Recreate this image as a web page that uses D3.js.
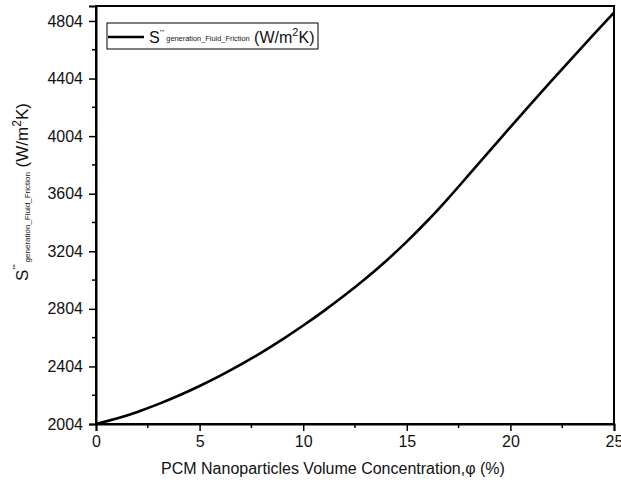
<!DOCTYPE html>
<html>
<head>
<meta charset="utf-8">
<script src="https://cdn.jsdelivr.net/npm/d3@7"></script>
<style>
  html, body { margin: 0; padding: 0; background: #fff; }
  text { font-family: "Liberation Sans", Arial, sans-serif; fill: #111; }
</style>
</head>
<body>
<svg id="chart" width="621" height="484"></svg>
<script>
// Data
const phi = [0,1,2,3,4,5,6,7,8,9,10,11,12,13,14,15,16,17,18,19,20,21,22,23,24,25];
const sGen = [2004,2042,2088,2142,2202,2268,2340,2418,2502,2592,2688,2790,2898,3013,3137,3271,3416,3572,3736,3902,4067,4230,4391,4550,4707,4862];
const xTicks = [0,5,10,15,20,25];
const yTicks = [2004,2404,2804,3204,3604,4004,4404,4804];
const xMinor = [2.5,7.5,12.5,17.5,22.5];
const yMinor = [2204,2604,3004,3404,3804,4204,4604];

const svg = d3.select("#chart");
const W = 621, H = 484;
const m = {left: 96, top: 6, right: 7, bottom: 60};
const x = d3.scaleLinear().domain([0,25]).range([m.left, W - m.right]);
const y = d3.scaleLinear().domain([2004,4908]).range([H - m.bottom, m.top]);

// frame
svg.append("rect")
  .attr("x", m.left).attr("y", m.top)
  .attr("width", W - m.right - m.left).attr("height", H - m.bottom - m.top)
  .attr("fill", "none").attr("stroke", "#000").attr("stroke-width", 2);

// x axis
const xAxis = svg.append("g").attr("transform", `translate(0,${H - m.bottom})`)
  .call(d3.axisBottom(x).tickValues(xTicks).tickFormat(d3.format("d")).tickSize(7).tickPadding(5));
xAxis.append("g").selectAll("line").data(xMinor).join("line")
  .attr("x1", d => x(d)).attr("x2", d => x(d)).attr("y1", 0).attr("y2", 4)
  .attr("stroke", "#000").attr("stroke-width", 1.5);
xAxis.select(".domain").attr("stroke-width", 2);
xAxis.selectAll(".tick line").attr("stroke-width", 1.5);
xAxis.selectAll(".tick text").attr("font-size", 16).attr("font-family", "Liberation Sans, Arial, sans-serif").attr("fill", "#111");

// y axis
const yAxis = svg.append("g").attr("transform", `translate(${m.left},0)`)
  .call(d3.axisLeft(y).tickValues(yTicks).tickFormat(d3.format("d")).tickSize(7).tickPadding(6));
yAxis.append("g").selectAll("line").data(yMinor).join("line")
  .attr("y1", d => y(d)).attr("y2", d => y(d)).attr("x1", 0).attr("x2", -4)
  .attr("stroke", "#000").attr("stroke-width", 1.5);
yAxis.select(".domain").attr("stroke-width", 2);
yAxis.selectAll(".tick line").attr("stroke-width", 1.5);
yAxis.selectAll(".tick text").attr("font-size", 16).attr("font-family", "Liberation Sans, Arial, sans-serif").attr("fill", "#111");

// line
const line = d3.line().x((d,i) => x(phi[i])).y(d => y(d)).curve(d3.curveMonotoneX);
svg.append("path").datum(sGen).attr("d", line)
  .attr("fill", "none").attr("stroke", "#000").attr("stroke-width", 2.6);

// x title
svg.append("text").attr("x", 333).attr("y", 474).attr("text-anchor", "middle")
  .attr("font-size", 16).text("PCM Nanoparticles Volume Concentration,φ (%)");

// y title
const yt = svg.append("text").attr("transform", "translate(28,192) rotate(-90)")
  .attr("text-anchor", "middle").attr("font-size", 17);
yt.append("tspan").text("S");
yt.append("tspan").attr("font-size", 9).attr("dy", -9).text("'''");
yt.append("tspan").attr("font-size", 8).attr("dy", 11).attr("dx", 2).text("generation_Fluid_Friction");
yt.append("tspan").attr("dy", -2).text(" (W/m");
yt.append("tspan").attr("font-size", 12).attr("dy", -7).text("2");
yt.append("tspan").attr("dy", 7).text("K)");

// legend
const lg = svg.append("g");
lg.append("rect").attr("x", 107).attr("y", 23).attr("width", 211).attr("height", 26)
  .attr("fill", "#fff").attr("stroke", "#000").attr("stroke-width", 1);
lg.append("line").attr("x1", 108).attr("x2", 144).attr("y1", 37).attr("y2", 37)
  .attr("stroke", "#000").attr("stroke-width", 2.6);
const lt = lg.append("text").attr("x", 149).attr("y", 43).attr("font-size", 16);
lt.append("tspan").text("S");
lt.append("tspan").attr("font-size", 8).attr("dy", -8).text("'''");
lt.append("tspan").attr("font-size", 7.4).attr("dy", 6).attr("dx", 2).text("generation_Fluid_Friction");
lt.append("tspan").attr("dy", 2).text(" (W/m");
lt.append("tspan").attr("font-size", 11).attr("dy", -7).text("2");
lt.append("tspan").attr("dy", 7).text("K)");
</script>
</body>
</html>
